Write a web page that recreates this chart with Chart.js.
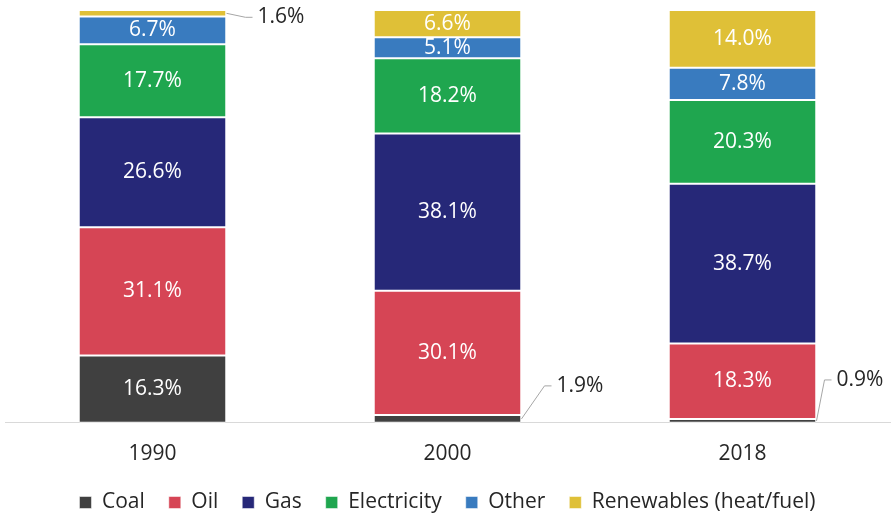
<!DOCTYPE html>
<html>
<head>
<meta charset="utf-8">
<script src="https://cdn.jsdelivr.net/npm/chart.js@4"></script>
<style>
  html, body { margin: 0; padding: 0; background: #ffffff; }
  #wrap { width: 892px; height: 516px; position: relative; }
</style>
</head>
<body>
<div id="wrap"><canvas id="c"></canvas></div>
<script>
const categories = ['1990', '2000', '2018'];
const coal = [16.3, 1.9, 0.9];
const oil = [31.1, 30.1, 18.3];
const gas = [26.6, 38.1, 38.7];
const electricity = [17.7, 18.2, 20.3];
const other = [6.7, 5.1, 7.8];
const renewables = [1.6, 6.6, 14.0];
const seriesNames = ['Coal', 'Oil', 'Gas', 'Electricity', 'Other', 'Renewables (heat/fuel)'];

const colors = ['#404040', '#d64555', '#262878', '#1fa64f', '#397bbf', '#dfc037'];
const FONT = '"Open Sans", "DejaVu Sans", sans-serif';

// leader-line callouts for thin segments: key "dataset:index" -> [dx, dy] of elbow relative to bar right edge / segment middle
const callouts = {
  '5:0': [20, 4],
  '0:1': [24, -33],
  '0:2': [9, -41]
};

const labelPlugin = {
  id: 'segLabels',
  afterDatasetsDraw(chart) {
    const ctx = chart.ctx;
    ctx.save();
    ctx.font = '21px ' + FONT;
    ctx.textBaseline = 'middle';
    chart.data.datasets.forEach((ds, di) => {
      const meta = chart.getDatasetMeta(di);
      meta.data.forEach((bar, i) => {
        const v = ds.data[i];
        const txt = v.toFixed(1) + '%';
        const key = di + ':' + i;
        const midY = (bar.y + bar.base) / 2;
        if (callouts[key]) {
          const right = bar.x + bar.width / 2;
          const [dx, dy] = callouts[key];
          ctx.strokeStyle = '#a6a6a6';
          ctx.lineWidth = 1;
          ctx.beginPath();
          ctx.moveTo(right + 1, midY);
          ctx.lineTo(right + dx, midY + dy);
          ctx.lineTo(right + dx + 7, midY + dy);
          ctx.stroke();
          ctx.fillStyle = '#262626';
          ctx.textAlign = 'left';
          ctx.fillText(txt, right + dx + 12, midY + dy);
        } else {
          ctx.fillStyle = '#ffffff';
          ctx.textAlign = 'center';
          ctx.fillText(txt, bar.x, midY);
        }
      });
    });
    ctx.restore();
  }
};

const seriesData = [coal, oil, gas, electricity, other, renewables];

new Chart(document.getElementById('c'), {
  type: 'bar',
  data: {
    labels: categories,
    datasets: seriesData.map((d, k) => ({
      label: seriesNames[k],
      data: d,
      backgroundColor: colors[k],
      borderColor: '#ffffff',
      borderWidth: { top: 1, bottom: 1, left: 0, right: 0 },
      borderSkipped: false,
      categoryPercentage: 1.0,
      barPercentage: 0.495
    }))
  },
  options: {
    responsive: true,
    maintainAspectRatio: false,
    animation: false,
    layout: { padding: { top: 10, left: 5, right: 2, bottom: -7 } },
    plugins: {
      tooltip: { enabled: false },
      legend: {
        position: 'bottom',
        labels: {
          font: { family: FONT, size: 21 },
          color: '#262626',
          boxWidth: 12,
          boxHeight: 12,
          padding: 24
        }
      }
    },
    scales: {
      x: {
        stacked: true,
        grid: { display: false, drawTicks: false },
        border: { display: true, color: '#d9d9d9', width: 1 },
        ticks: { font: { family: FONT, size: 21 }, color: '#262626', padding: 19 },
        afterFit(scale) { scale.height -= 18; }
      },
      y: {
        stacked: true,
        display: false,
        min: 0,
        max: 100
      }
    }
  },
  plugins: [labelPlugin]
});
</script>
</body>
</html>
